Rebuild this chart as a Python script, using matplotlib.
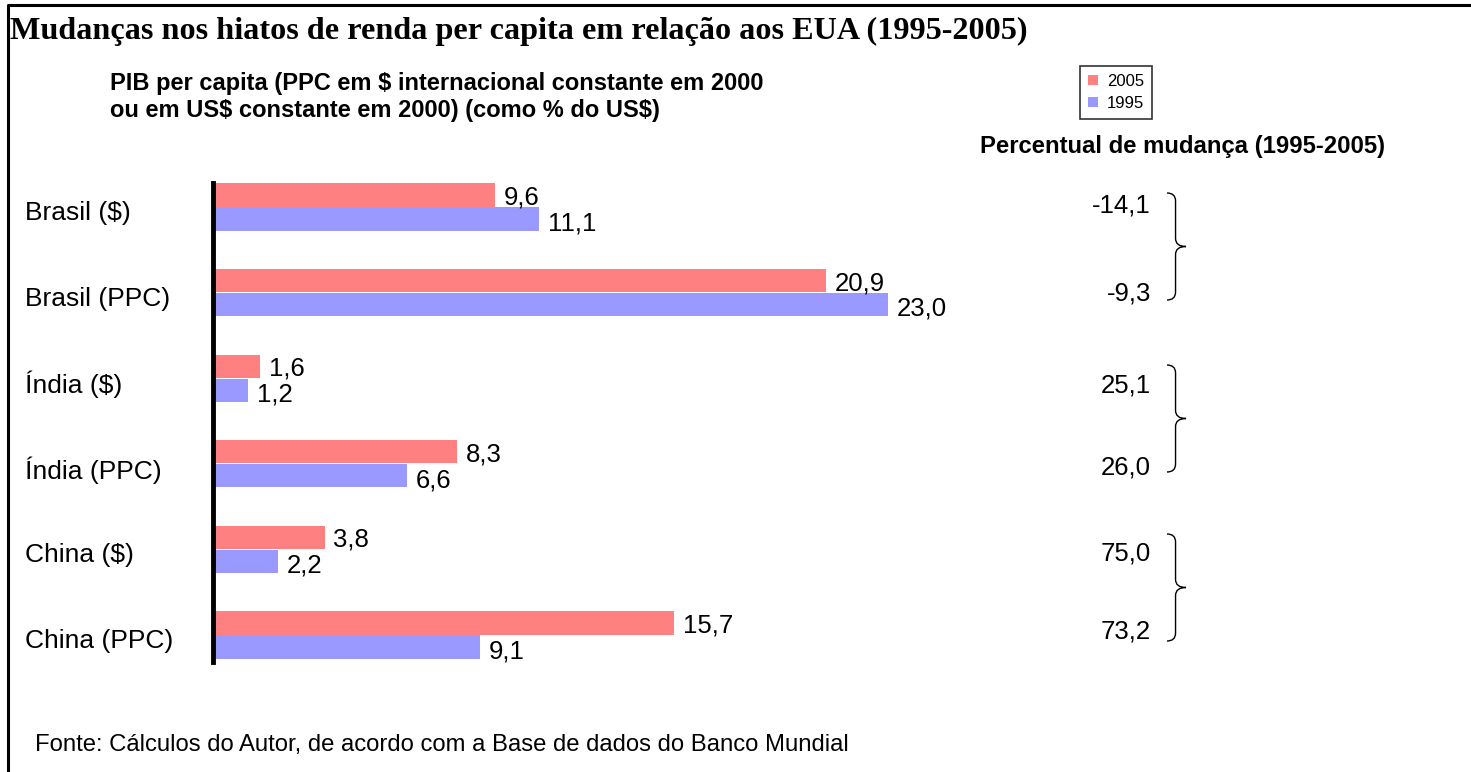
import numpy as np
import matplotlib.pyplot as plt
from matplotlib.path import Path
from matplotlib.patches import PathPatch

categories = ['Brasil ($)', 'Brasil (PPC)', 'Índia ($)', 'Índia (PPC)', 'China ($)', 'China (PPC)']
v2005 = [9.6, 20.9, 1.6, 8.3, 3.8, 15.7]
v1995 = [11.1, 23.0, 1.2, 6.6, 2.2, 9.1]
mudanca = [-14.1, -9.3, 25.1, 26.0, 75.0, 73.2]

RED = '#FF8080'
BLUE = '#9999FF'
W, H = 1471, 772

plt.rcParams['font.family'] = ['Liberation Sans', 'DejaVu Sans']
plt.rcParams['text.parse_math'] = False

fig = plt.figure(figsize=(W / 100, H / 100), dpi=100)

# overlay in pixel coordinates for frame, text and braces
ov = fig.add_axes([0, 0, 1, 1])
ov.set_xlim(0, W)
ov.set_ylim(H, 0)
ov.axis('off')

# main bar axes
x0, y_top, y_bot = 213, 183, 662
px_unit = 29.35
axw = 30 * px_unit
ax = fig.add_axes([x0 / W, (H - y_bot) / H, axw / W, (y_bot - y_top) / H])
ax.set_zorder(2)
ax.patch.set_visible(False)
y = np.arange(len(categories))
h = 0.27
ax.barh(y - 0.14, v2005, height=h, color=RED, label='2005')
ax.barh(y + 0.14, v1995, height=h, color=BLUE, label='1995')
ax.set_xlim(0, 30)
ax.set_ylim(5 + 27 / 85.5, -24 / 85.5)
for i in range(len(categories)):
    ax.text(v2005[i] + 0.3, y[i] - 0.11, f'{v2005[i]:.1f}'.replace('.', ','),
            va='center', ha='left', fontsize=18.5)
    ax.text(v1995[i] + 0.3, y[i] + 0.19, f'{v1995[i]:.1f}'.replace('.', ','),
            va='center', ha='left', fontsize=18.5)
    ax.text((25 - x0) / axw, y[i] + 0.07, categories[i], transform=ax.get_yaxis_transform(),
            va='center', ha='left', fontsize=19)
ax.set_yticks([])
ax.set_xticks([])
for s in ['top', 'right', 'bottom']:
    ax.spines[s].set_visible(False)
ax.spines['left'].set_linewidth(3.5)

# frame
ov.plot([8, 8, W], [H, 5, 5], color='black', lw=2.2, solid_capstyle='butt')

# titles
ov.text(10, 31, 'Mudanças nos hiatos de renda per capita em relação aos EUA (1995-2005)',
        family='Liberation Serif', fontweight='bold', fontsize=23.2, va='center', ha='left')
ov.text(110, 97, 'PIB per capita (PPC em $ internacional constante em 2000\n'
        'ou em US$ constante em 2000) (como % do US$)',
        fontweight='bold', fontsize=17, va='center', ha='left', linespacing=1.25)
ov.text(980, 147, 'Percentual de mudança (1995-2005)', fontweight='bold',
        fontsize=17.2, va='center', ha='left')

# legend
leg = ax.legend(loc='upper left', bbox_to_anchor=((1080 - x0) / axw, 1 + (183 - 66) / (y_bot - y_top)),
                fontsize=12, frameon=True, fancybox=False, edgecolor='black',
                handlelength=0.55, handleheight=0.55, handletextpad=0.55,
                borderpad=0.5, borderaxespad=0, labelspacing=0.4)
leg.get_frame().set_linewidth(1.2)
for t in leg.get_texts():
    t.set_x(0)

# percent change values
yp = [206, 293, 385, 468, 553, 632]
for v, yy in zip(mudanca, yp):
    ov.text(1151, yy, f'{v:.1f}'.replace('.', ','), ha='right', va='center', fontsize=18.5)


def brace(xl, ytop, ybot, depth=19):
    ym = (ytop + ybot) / 2
    xa = xl + depth * 0.45
    xt = xl + depth
    verts = [(xl, ytop), (xa, ytop), (xa, ytop + 8),
             (xa, ytop + 8), (xa, ym - 8), (xa, ym - 8),
             (xa, ym), (xt, ym), (xt, ym),
             (xt, ym), (xa, ym), (xa, ym + 8),
             (xa, ym + 8), (xa, ybot - 8), (xa, ybot - 8),
             (xa, ybot), (xl, ybot), (xl, ybot)]
    codes = [Path.MOVETO, Path.CURVE3, Path.CURVE3,
             Path.LINETO, Path.LINETO, Path.LINETO,
             Path.CURVE3, Path.CURVE3, Path.LINETO,
             Path.LINETO, Path.CURVE3, Path.CURVE3,
             Path.LINETO, Path.LINETO, Path.LINETO,
             Path.CURVE3, Path.CURVE3, Path.LINETO]
    ov.add_patch(PathPatch(Path(verts, codes), fill=False, lw=1.0, edgecolor='black'))


brace(1167, 193, 300)
brace(1167, 365, 472)
brace(1167, 534, 641)

ov.text(35, 745, 'Fonte: Cálculos do Autor, de acordo com a Base de dados do Banco Mundial',
        fontsize=17.2, va='center', ha='left')

fig.savefig('out.png', dpi=100)
